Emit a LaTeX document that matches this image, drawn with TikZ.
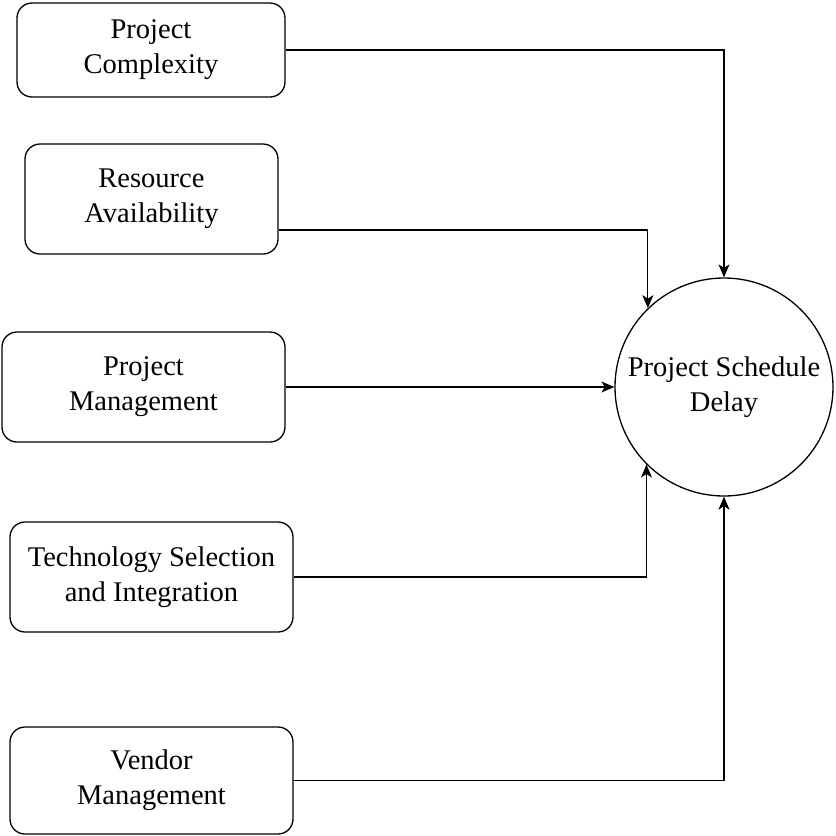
\documentclass[tikz,border=0pt]{standalone}
\usepackage{fontspec}
\setmainfont{Liberation Serif}
\usetikzlibrary{arrows.meta}
\begin{document}
\begin{tikzpicture}[x=1pt,y=-1pt,
  txt/.style={font=\fontsize{28.5}{35}\selectfont, align=center},
  box/.style={txt, draw, rounded corners=15pt, line width=1.3pt, inner sep=0pt},
  circ/.style={txt, draw, circle, line width=1.3pt, inner sep=0pt, minimum size=218pt},
  conn/.style={line width=1.3pt, -{Stealth[length=13pt,width=11pt,inset=3.5pt]}}]
\useasboundingbox (0,0) rectangle (836,836);
\node[box, minimum width=268pt, minimum height=94pt] (b1) at (151,50) {Project\\Complexity};
\node[box, minimum width=253pt, minimum height=110pt] (b2) at (151.5,199) {Resource\\Availability};
\node[box, minimum width=283pt, minimum height=110pt] (b3) at (143.5,387) {Project\\Management};
\node[box, minimum width=283pt, minimum height=110pt] (b4) at (151.5,577) {Technology Selection\\and Integration};
\node[box, minimum width=283pt, minimum height=107pt] (b5) at (151.5,780.5) {Vendor\\Management};
\node[circ] (c) at (724,387) {Project Schedule\\Delay};
\draw[conn] (b1.east) -| (c.north);
\draw[conn] ([yshift=-31pt]b2.east) -| (c.134.3);
\draw[conn] (b3.east) -- (c.west);
\draw[conn] (b4.east) -| (c.225.7);
\draw[conn] (b5.east) -| (c.south);
\end{tikzpicture}
\end{document}
